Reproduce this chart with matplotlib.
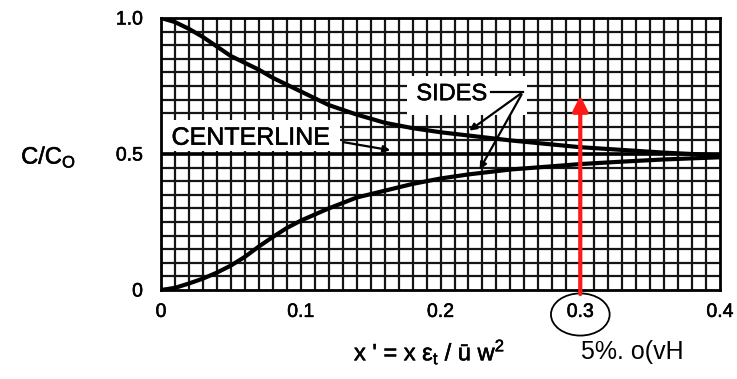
import matplotlib
matplotlib.use("Agg")
import matplotlib.pyplot as plt
import matplotlib.patheffects as pe
from matplotlib.patches import Rectangle, Ellipse

# values
x_upper = [0.0, 0.01, 0.02, 0.03, 0.04, 0.05, 0.06, 0.07, 0.08, 0.09, 0.10,
           0.12, 0.14, 0.16, 0.18, 0.20, 0.22, 0.25, 0.28, 0.30, 0.33, 0.36, 0.40]
c_upper = [1.0, 0.985, 0.96, 0.93, 0.895, 0.86, 0.835, 0.81, 0.78, 0.755, 0.73,
           0.68, 0.645, 0.615, 0.595, 0.58, 0.568, 0.55, 0.535, 0.525, 0.515, 0.505, 0.495]
x_lower = [0.0, 0.01, 0.02, 0.03, 0.04, 0.05, 0.06, 0.07, 0.08, 0.09, 0.10,
           0.12, 0.14, 0.16, 0.18, 0.20, 0.22, 0.25, 0.28, 0.30, 0.33, 0.36, 0.40]
c_lower = [0.0, 0.008, 0.024, 0.042, 0.064, 0.09, 0.122, 0.16, 0.195, 0.228, 0.255,
           0.30, 0.34, 0.365, 0.39, 0.41, 0.425, 0.443, 0.455, 0.463, 0.472, 0.48, 0.488]
centerline = 0.5
x_ticks = [0, 0.1, 0.2, 0.3, 0.4]
x_ticklabels = ["0", "0.1", "0.2", "0.3", "0.4"]
y_ticks = [0, 0.5, 1.0]
y_ticklabels = ["0", "0.5", "1.0"]
x_marked = 0.3

plt.rcParams["font.family"] = ["Liberation Sans", "DejaVu Sans"]
# scanned print looks a bit heavier than a regular face
heavy = [pe.withStroke(linewidth=0.4, foreground="black")]

fig = plt.figure(figsize=(7.37, 3.79), dpi=100)
ax = fig.add_axes([0.2185, 0.2348, 0.7585, 0.7177])
ax.set_xlim(0, 0.4)
ax.set_ylim(0, 1.0)

# graph paper grid
for i in range(1, 40):
    ax.axvline(i * 0.01, color="#151515", lw=1.6, zorder=1)
for j in range(1, 20):
    ax.axhline(j * 0.05, color="#151515", lw=1.6, zorder=1)
ax.axhline(centerline, color="black", lw=2.6, zorder=1)

# white label boxes over the grid
ax.add_patch(Rectangle((0.0, 0.51), 0.128, 0.115, facecolor="white", edgecolor="none", zorder=2))
ax.add_patch(Rectangle((0.176, 0.645), 0.086, 0.14, facecolor="white", edgecolor="none", zorder=2))

ax.plot(x_upper, c_upper, color="black", lw=3, zorder=3)
ax.plot(x_lower, c_lower, color="black", lw=3, zorder=3)

for s in ax.spines.values():
    s.set_linewidth(2)

ax.set_xticks(x_ticks)
ax.set_xticklabels(x_ticklabels, fontsize=14, path_effects=heavy)
ax.set_yticks(y_ticks)
ax.set_yticklabels(y_ticklabels, fontsize=14, path_effects=heavy)
ax.tick_params(length=0)
ax.tick_params(axis="x", pad=10)
ax.tick_params(axis="y", pad=13)

ax.text(0.064, 0.56, "CENTERLINE", fontsize=18, ha="center", va="center", zorder=4,
        path_effects=heavy)
ax.annotate("", xy=(0.166, 0.512), xytext=(0.129, 0.545),
            arrowprops=dict(arrowstyle="-|>", color="black", lw=1.6), zorder=4)

ax.text(0.208, 0.72, "SIDES", fontsize=17, ha="center", va="center", zorder=4,
        path_effects=heavy)
ax.plot([0.236, 0.259], [0.728, 0.728], color="black", lw=1.6, zorder=4)
ax.annotate("", xy=(0.219, 0.58), xytext=(0.259, 0.728),
            arrowprops=dict(arrowstyle="-|>", color="black", lw=1.6), zorder=4)
ax.annotate("", xy=(0.227, 0.434), xytext=(0.259, 0.728),
            arrowprops=dict(arrowstyle="-|>", color="black", lw=1.6), zorder=4)

# red marker arrow at x' = 0.3
ax.annotate("", xy=(x_marked, 0.725), xytext=(x_marked, -0.025),
            arrowprops=dict(arrowstyle="-|>,head_width=0.45,head_length=0.9",
                            color="#ff1a1a", lw=3), zorder=5, annotation_clip=False)
ax.add_patch(Ellipse((x_marked, -0.09), 0.042, 0.155, facecolor="none",
                     edgecolor="black", lw=1.3, clip_on=False))

fig.text(0.066, 0.585, "C/C$_\\mathregular{O}$", fontsize=17, ha="center", va="center",
         path_effects=heavy)
fig.text(0.583, 0.072, "x ' = x ε$_\\mathregular{t}$ / ū w$^\\mathregular{2}$", fontsize=17,
         ha="center", va="center", path_effects=heavy)
fig.text(0.858, 0.072, "5%. o(vH", fontsize=18, ha="center", va="center")

fig.savefig("out.png", dpi=100)
